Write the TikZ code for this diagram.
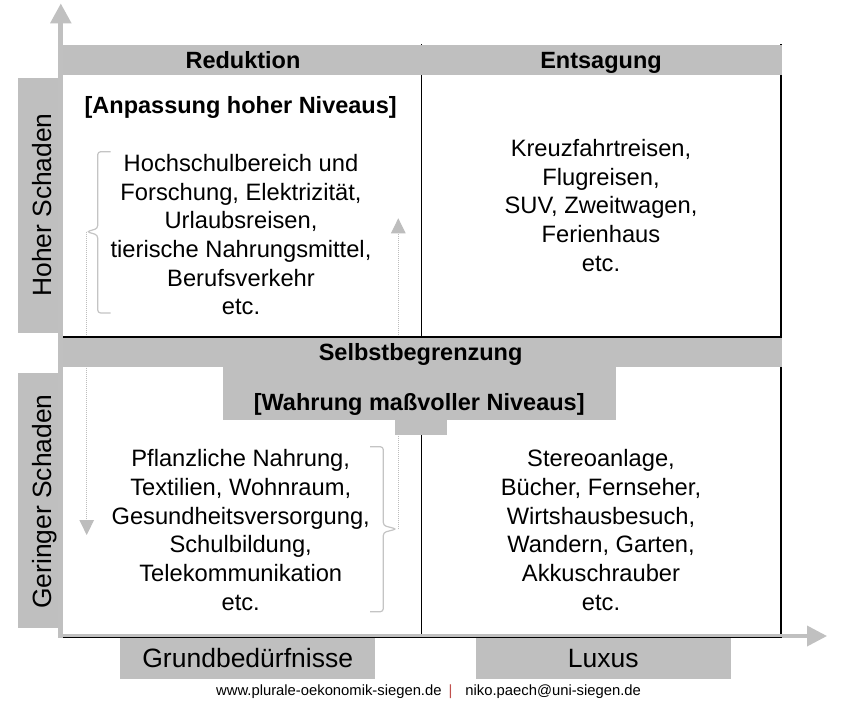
\documentclass[tikz,border=0pt]{standalone}
\usepackage{fontspec}
\setmainfont{Liberation Sans}
\usetikzlibrary{arrows.meta}
\definecolor{barfill}{HTML}{BFBFBF}
\definecolor{axisgray}{HTML}{C0C0C0}
\definecolor{bracegray}{HTML}{C4C4C4}
\definecolor{guidegray}{HTML}{BDBDBD}
\definecolor{sepred}{HTML}{C0504D}

\begin{document}
\begin{tikzpicture}[x=1pt,y=-1pt,
  bar/.style={fill=barfill,draw=none},
  gridline/.style={draw=black,line width=1.3pt},
  headtext/.style={font=\fontsize{23.5}{28}\selectfont\bfseries,inner sep=0pt,anchor=base},
  itemtext/.style={font=\fontsize{23.7}{28.7}\selectfont,align=center,inner sep=0pt},
  axistext/.style={font=\fontsize{26.5}{30}\selectfont,inner sep=0pt,anchor=base},
  sidetext/.style={font=\fontsize{26.4}{30}\selectfont,inner sep=0pt,anchor=base,rotate=90},
  brace/.style={draw=bracegray,line width=1.2pt,rounded corners=3pt},
  guide/.style={draw=guidegray,line width=0.9pt,dash pattern=on 1pt off 1pt,
    -{Triangle[length=15pt,width=14.5pt]}},
  axis/.style={draw=axisgray,-{Triangle[length=20pt,width=20pt]}}
]
\useasboundingbox (0,0) rectangle (843,705);
\fill[white] (0,0) rectangle (843,705);

% key points of the grid and the axes
\coordinate (origin) at (60.8,636);
\coordinate (ytip) at (60.8,3.3);
\coordinate (xtip) at (827,636);

% grid lines of the matrix
\draw[gridline] (421.5,44) -- (421.5,637.6);
\draw[gridline] (781,44) -- (781,637.6);

% the two braces and their dotted guide arrows
\coordinate (bracetipA) at (86.7,231.7);
\coordinate (guideendA) at (86.7,535);
\coordinate (bracetipB) at (396.5,529);
\coordinate (guidestartB) at (398.3,529);
\coordinate (guideendB) at (398.3,218.3);
\draw[brace] (110.5,151.7) -| (97.7,228.5) -- (bracetipA) -- (97.7,235) |- (110.5,313);
\draw[brace] (370,446.7) -| (383.3,525.5) -- (bracetipB) -- (383.3,532.5) |- (370,611.7);
\draw[guide] (bracetipA) -- (guideendA);
\draw[guide] (guidestartB) -- (guideendB);

% grey bars
\fill[bar] (58,45) rectangle (782,75);
\fill[bar] (58,337.5) rectangle (782,367.3);
\fill[bar] (223,367) rectangle (616,419.6);
\fill[bar] (395,419) rectangle (447,435);
\fill[bar] (18,78.3) rectangle (59,332.7);
\fill[bar] (18,373.3) rectangle (59,628.3);
\fill[bar] (120,638.3) rectangle (375,679.3);
\fill[bar] (476,638.3) rectangle (730.7,679.3);

% separating line between the upper and lower rows
\draw[gridline] (62,337) -- (781.6,337);

% axes
\draw[axis,line width=3.6pt] (origin) -- (xtip);
\draw[gridline,line width=1.2pt] (61,637.8) -- (781.6,637.8);
\draw[axis,line width=5pt] (60.8,637.5) -- (ytip);

% headings
\node[headtext] (reduktion) at (243,68.3) {Reduktion};
\node[headtext] (entsagung) at (601,68.3) {Entsagung};
\node[headtext] (anpassung) at (240.7,113.3) {[Anpassung hoher Niveaus]};
\node[headtext] (selbst) at (420.6,360.7) {Selbstbegrenzung};
\node[headtext] (wahrung) at (419.2,410) {[Wahrung maßvoller Niveaus]};

% quadrant contents
\node[itemtext] (tl) at (241,234.7) {Hochschulbereich und\\Forschung, Elektrizität,\\Urlaubsreisen,\\tierische Nahrungsmittel,\\Berufsverkehr\\etc.};
\node[itemtext] (tr) at (601,205.5) {Kreuzfahrtreisen,\\Flugreisen,\\SUV, Zweitwagen,\\Ferienhaus\\etc.};
\node[itemtext] (bl) at (240.7,530) {Pflanzliche Nahrung,\\Textilien, Wohnraum,\\Gesundheitsversorgung,\\Schulbildung,\\Telekommunikation\\etc.};
\node[itemtext] (br) at (601,530) {Stereoanlage,\\Bücher, Fernseher,\\Wirtshausbesuch,\\Wandern, Garten,\\Akkuschrauber\\etc.};

% axis labels
\node[sidetext] (hoch) at (51.7,205) {Hoher Schaden};
\node[sidetext] (gering) at (51.7,501.5) {Geringer Schaden};
\node[axistext] (grund) at (247.7,667.3) {Grundbedürfnisse};
\node[axistext] (luxus) at (603.3,667.3) {Luxus};

% footer
\node[inner sep=0pt,anchor=base west,font=\fontsize{14.8}{17}\selectfont] (footer) at (216,695.7)
  {www.plurale-oekonomik-siegen.de\hspace{7pt}\textcolor{sepred}{|}\hspace{13pt}niko.paech@uni-siegen.de};
\end{tikzpicture}
\end{document}
